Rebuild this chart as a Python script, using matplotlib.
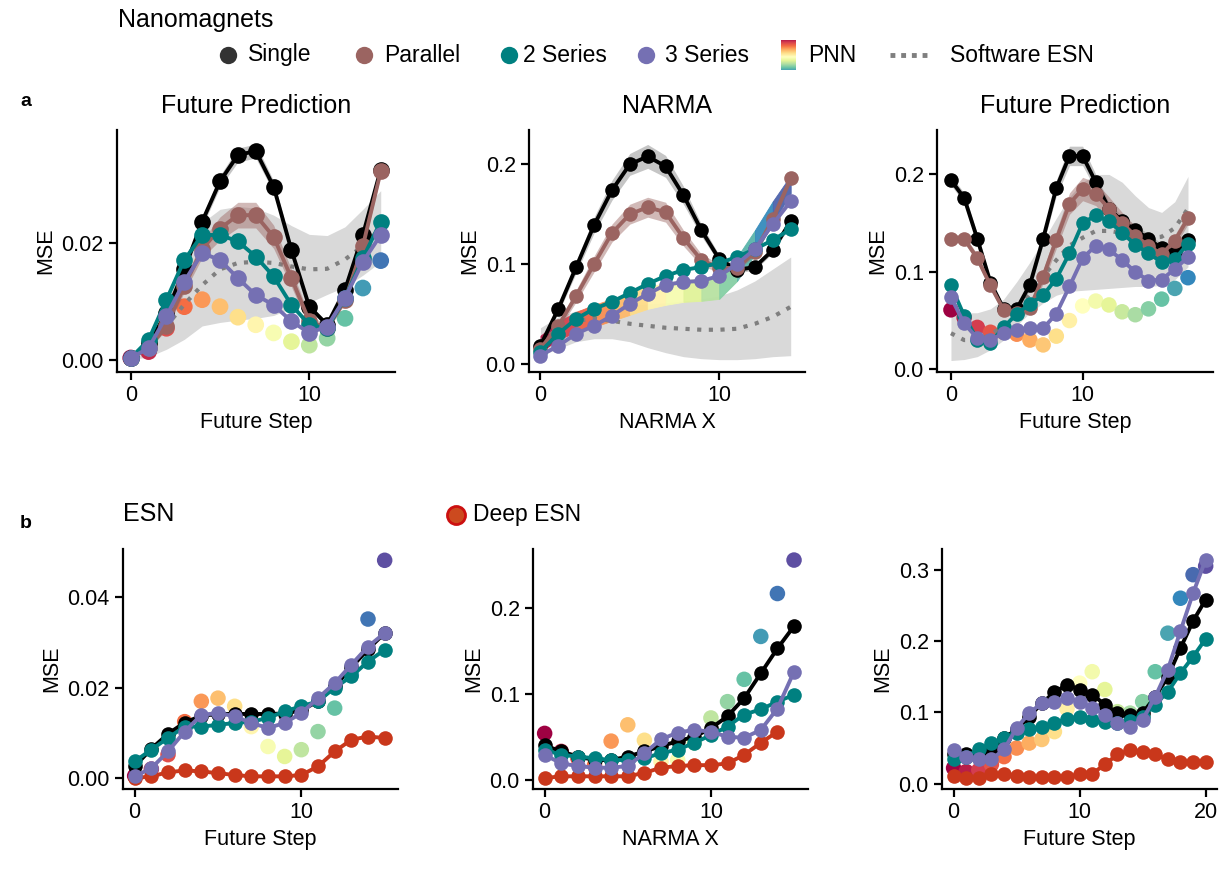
import numpy as np
import matplotlib
matplotlib.use("Agg")
import matplotlib.pyplot as plt

plt.rcParams['font.family'] = ['Liberation Sans', 'DejaVu Sans']

# Colores de cada red
c_single = '#000000'
c_parallel = '#9b6461'
c_series2 = '#008080'
c_series3 = '#7570b3'
c_deep = '#c9371b'
c_esn = '#7f7f7f'
cmap = plt.get_cmap('Spectral')

# ---- a: Future Prediction (izquierda) ----
steps_a1 = np.arange(15)
single_a1 = [0.0003, 0.0028, 0.008, 0.0155, 0.0237, 0.0306, 0.0351, 0.0358, 0.0297, 0.0188, 0.0091, 0.006, 0.012, 0.0214, 0.0326]
single_sd_a1 = [0.0, 0.0003, 0.0005, 0.0007, 0.0009, 0.001, 0.0012, 0.0012, 0.001, 0.0008, 0.0005, 0.0004, 0.0004, 0.0005, 0.0006]
parallel_a1 = [0.0003, 0.002, 0.0058, 0.0126, 0.019, 0.0225, 0.0248, 0.0248, 0.0211, 0.014, 0.0066, 0.0054, 0.0102, 0.0195, 0.0323]
parallel_sd_a1 = [0.0, 0.0003, 0.0006, 0.001, 0.0015, 0.002, 0.0022, 0.0022, 0.002, 0.0015, 0.001, 0.0006, 0.0005, 0.0006, 0.0007]
series2_a1 = [0.0003, 0.0034, 0.0103, 0.0171, 0.0214, 0.0214, 0.0203, 0.0177, 0.0143, 0.0094, 0.006, 0.0054, 0.0106, 0.0174, 0.0237]
series3_a1 = [0.0003, 0.002, 0.0075, 0.0134, 0.0183, 0.0171, 0.014, 0.0111, 0.0094, 0.0066, 0.0046, 0.0057, 0.0106, 0.0168, 0.0214]
pnn_a1 = [0.0003, 0.0014, 0.0054, 0.0091, 0.0103, 0.0091, 0.0073, 0.006, 0.0046, 0.0031, 0.0025, 0.0037, 0.0071, 0.0123, 0.017]
esn_a1 = [0.0003, 0.0022, 0.0058, 0.0095, 0.0128, 0.0155, 0.0166, 0.0168, 0.0166, 0.016, 0.0155, 0.0156, 0.0172, 0.0195, 0.0225]
esn_lo_a1 = [0.0, 0.0005, 0.0018, 0.0035, 0.0058, 0.0064, 0.0068, 0.0071, 0.0076, 0.0088, 0.0098, 0.0112, 0.0125, 0.0145, 0.0168]
esn_hi_a1 = [0.0006, 0.0035, 0.0095, 0.017, 0.0235, 0.0258, 0.0263, 0.026, 0.0248, 0.023, 0.0215, 0.0213, 0.0228, 0.0258, 0.029]

# ---- a: NARMA ----
steps_a2 = np.arange(15)
single_a2 = [0.018, 0.055, 0.097, 0.139, 0.174, 0.2, 0.208, 0.198, 0.169, 0.134, 0.105, 0.094, 0.097, 0.114, 0.143]
single_sd_a2 = [0.002, 0.004, 0.006, 0.008, 0.01, 0.011, 0.012, 0.011, 0.009, 0.006, 0.004, 0.003, 0.003, 0.003, 0.003]
parallel_a2 = [0.015, 0.038, 0.068, 0.1, 0.131, 0.15, 0.157, 0.152, 0.126, 0.104, 0.096, 0.096, 0.112, 0.145, 0.186]
parallel_sd_a2 = [0.002, 0.004, 0.006, 0.008, 0.009, 0.01, 0.01, 0.01, 0.008, 0.006, 0.004, 0.003, 0.003, 0.004, 0.004]
series2_a2 = [0.012, 0.03, 0.045, 0.055, 0.062, 0.071, 0.08, 0.088, 0.094, 0.097, 0.101, 0.107, 0.115, 0.124, 0.135]
series3_a2 = [0.008, 0.018, 0.03, 0.038, 0.048, 0.06, 0.07, 0.079, 0.082, 0.083, 0.088, 0.1, 0.115, 0.14, 0.163]
pnn_a2 = [0.02, 0.033, 0.042, 0.048, 0.054, 0.06, 0.066, 0.07, 0.073, 0.074, 0.077, 0.095, 0.122, 0.152, 0.18]
pnn_sd_a2 = [0.008, 0.009, 0.01, 0.011, 0.011, 0.011, 0.011, 0.011, 0.011, 0.011, 0.012, 0.012, 0.012, 0.011, 0.009]
esn_a2 = [0.022, 0.035, 0.043, 0.045, 0.043, 0.04, 0.038, 0.036, 0.035, 0.034, 0.034, 0.035, 0.04, 0.047, 0.057]
esn_lo_a2 = [0.008, 0.015, 0.022, 0.025, 0.025, 0.022, 0.016, 0.011, 0.007, 0.005, 0.004, 0.004, 0.005, 0.007, 0.008]
esn_hi_a2 = [0.036, 0.047, 0.053, 0.057, 0.058, 0.059, 0.06, 0.061, 0.063, 0.065, 0.068, 0.074, 0.083, 0.095, 0.107]

# ---- a: Future Prediction (derecha) ----
steps_a3 = np.arange(19)
single_a3 = [0.194, 0.176, 0.134, 0.089, 0.062, 0.062, 0.087, 0.134, 0.186, 0.219, 0.219, 0.192, 0.165, 0.152, 0.143, 0.134, 0.124, 0.119, 0.133]
single_sd_a3 = [0.005, 0.005, 0.005, 0.004, 0.004, 0.004, 0.005, 0.006, 0.008, 0.01, 0.01, 0.008, 0.006, 0.005, 0.005, 0.005, 0.005, 0.005, 0.005]
parallel_a3 = [0.134, 0.134, 0.114, 0.086, 0.061, 0.058, 0.063, 0.095, 0.133, 0.17, 0.185, 0.18, 0.165, 0.15, 0.137, 0.127, 0.118, 0.132, 0.155]
parallel_sd_a3 = [0.004, 0.004, 0.004, 0.004, 0.004, 0.004, 0.005, 0.007, 0.009, 0.011, 0.012, 0.012, 0.012, 0.011, 0.01, 0.008, 0.007, 0.006, 0.006]
series2_a3 = [0.086, 0.055, 0.03, 0.027, 0.043, 0.057, 0.067, 0.076, 0.093, 0.119, 0.15, 0.158, 0.152, 0.14, 0.128, 0.119, 0.11, 0.113, 0.129]
series3_a3 = [0.074, 0.047, 0.032, 0.03, 0.037, 0.04, 0.042, 0.042, 0.057, 0.085, 0.114, 0.127, 0.123, 0.112, 0.1, 0.091, 0.092, 0.103, 0.115]
pnn_a3 = [0.061, 0.053, 0.043, 0.038, 0.038, 0.036, 0.03, 0.025, 0.034, 0.05, 0.065, 0.07, 0.066, 0.059, 0.056, 0.062, 0.072, 0.083, 0.094]
esn_a3 = [0.037, 0.03, 0.03, 0.035, 0.045, 0.06, 0.078, 0.095, 0.112, 0.127, 0.135, 0.142, 0.142, 0.14, 0.137, 0.135, 0.136, 0.145, 0.165]
esn_lo_a3 = [0.009, 0.01, 0.013, 0.02, 0.03, 0.045, 0.058, 0.068, 0.076, 0.08, 0.081, 0.082, 0.083, 0.084, 0.085, 0.085, 0.086, 0.092, 0.105]
esn_hi_a3 = [0.062, 0.058, 0.058, 0.062, 0.072, 0.09, 0.11, 0.132, 0.155, 0.177, 0.192, 0.2, 0.2, 0.192, 0.178, 0.166, 0.161, 0.172, 0.198]

# ---- b: ESN (Future Prediction) ----
steps_b1 = np.arange(16)
single_b1 = [0.0026, 0.0065, 0.0098, 0.0123, 0.0138, 0.0142, 0.0142, 0.0142, 0.0142, 0.0143, 0.015, 0.017, 0.0203, 0.0245, 0.0285, 0.0321]
series2_b1 = [0.0037, 0.0063, 0.0089, 0.0114, 0.0114, 0.0118, 0.0122, 0.0125, 0.0133, 0.0148, 0.0159, 0.017, 0.02, 0.0225, 0.0258, 0.0284]
series3_b1 = [0.0004, 0.0022, 0.0059, 0.0103, 0.014, 0.0144, 0.0137, 0.0122, 0.0111, 0.0122, 0.0144, 0.0177, 0.021, 0.0251, 0.0291, 0.0321]
pnn_b1 = [0.0005, 0.002, 0.0052, 0.0125, 0.017, 0.0177, 0.0159, 0.0114, 0.007, 0.0048, 0.0063, 0.0103, 0.0155, 0.0229, 0.0352, 0.0482]
deep_b1 = [0.0, 0.0004, 0.0013, 0.0017, 0.0015, 0.0011, 0.0007, 0.0004, 0.0004, 0.0004, 0.0007, 0.0026, 0.0059, 0.0085, 0.0092, 0.0089]

# ---- b: NARMA ----
steps_b2 = np.arange(16)
single_b2 = [0.04, 0.033, 0.027, 0.023, 0.023, 0.027, 0.033, 0.039, 0.045, 0.05, 0.06, 0.074, 0.095, 0.124, 0.153, 0.179]
series2_b2 = [0.035, 0.029, 0.027, 0.025, 0.023, 0.023, 0.025, 0.031, 0.035, 0.043, 0.052, 0.062, 0.076, 0.082, 0.091, 0.099]
series3_b2 = [0.029, 0.019, 0.016, 0.014, 0.014, 0.016, 0.031, 0.047, 0.055, 0.058, 0.056, 0.05, 0.049, 0.058, 0.083, 0.126]
pnn_b2 = [0.054, 0.033, 0.025, 0.017, 0.045, 0.064, 0.046, 0.021, 0.023, 0.043, 0.072, 0.091, 0.117, 0.167, 0.217, 0.256]
deep_b2 = [0.002, 0.004, 0.004, 0.004, 0.004, 0.004, 0.008, 0.014, 0.016, 0.017, 0.017, 0.019, 0.029, 0.043, 0.056]

# ---- b: Future Prediction (derecha) ----
steps_b3 = np.arange(21)
single_b3 = [0.041, 0.042, 0.038, 0.048, 0.064, 0.076, 0.094, 0.113, 0.128, 0.139, 0.132, 0.125, 0.111, 0.099, 0.097, 0.099, 0.122, 0.15, 0.19, 0.228, 0.258]
series2_b3 = [0.034, 0.038, 0.048, 0.057, 0.064, 0.071, 0.076, 0.08, 0.085, 0.091, 0.094, 0.09, 0.086, 0.085, 0.088, 0.094, 0.111, 0.129, 0.155, 0.178, 0.203]
series3_b3 = [0.047, 0.038, 0.034, 0.034, 0.048, 0.078, 0.099, 0.113, 0.114, 0.12, 0.115, 0.106, 0.097, 0.085, 0.08, 0.09, 0.122, 0.16, 0.214, 0.267, 0.314]
pnn_b3 = [0.022, 0.017, 0.019, 0.027, 0.038, 0.05, 0.057, 0.062, 0.073, 0.105, 0.141, 0.157, 0.132, 0.101, 0.099, 0.115, 0.157, 0.211, 0.26, 0.293, 0.305]
deep_b3 = [0.011, 0.008, 0.008, 0.013, 0.014, 0.011, 0.009, 0.009, 0.01, 0.01, 0.013, 0.014, 0.027, 0.041, 0.047, 0.045, 0.041, 0.034, 0.03, 0.03, 0.03]

legend_names = ['Single', 'Parallel', '2 Series', '3 Series', 'PNN', 'Software ESN']

W, H = 1222, 873
fig = plt.figure(figsize=(W / 100, H / 100), dpi=100)


def caja(left, top, right, bottom):
    # ejes colocados en pixeles de la figura
    return fig.add_axes([left / W, 1 - bottom / H, (right - left) / W, (bottom - top) / H])


def estilo(ax, xlim, ylim, xticks, yticks, yfmt, xlabel):
    ax.set_xlim(*xlim)
    ax.set_ylim(*ylim)
    ax.set_xticks(xticks)
    ax.set_yticks(yticks)
    ax.set_yticklabels([yfmt.format(v) for v in yticks])
    ax.set_xlabel(xlabel, fontsize=15.5)
    ax.set_ylabel('MSE', fontsize=15.5)
    for s in ['top', 'right']:
        ax.spines[s].set_visible(False)
    for s in ['left', 'bottom']:
        ax.spines[s].set_linewidth(1.6)
    ax.tick_params(width=1.6, length=6, labelsize=15.5)


def esn(ax, x, mean, lo, hi):
    ax.fill_between(x, lo, hi, color='#d9d9d9', lw=0, zorder=1)
    ax.plot(x, mean, color=c_esn, lw=3, ls=(0, (1, 1.8)), zorder=2.5)


def magnet(ax, x, y, color, z, sd=None, band='#808080', ms=10.5):
    y = np.asarray(y)
    if sd is not None:
        sd = np.asarray(sd)
        ax.fill_between(x, y - sd, y + sd, color=band, alpha=0.45, lw=0, zorder=z - 0.5)
    ax.plot(x, y, color=color, lw=2.8, marker='o', ms=ms, mec='none', zorder=z)


def pnn_dots(ax, x, y, vmax, s=125):
    ax.scatter(x, y, c=x, cmap=cmap, vmin=0, vmax=vmax, s=s, edgecolors='none', zorder=2)


def pnn_band(ax, x, y, sd, vmax):
    y = np.asarray(y)
    sd = np.asarray(sd)
    for i in range(len(x) - 1):
        c = cmap((x[i] + x[i + 1]) / 2 / vmax)
        ax.fill_between(x[i:i + 2], y[i:i + 2] - sd[i:i + 2], y[i:i + 2] + sd[i:i + 2],
                        color=c, ec=c, lw=0.6, alpha=0.95, zorder=2)


ax_a1 = caja(117, 130, 395, 372)
ax_a2 = caja(529, 130, 805, 372)
ax_a3 = caja(937, 130, 1213, 372)
ax_b1 = caja(123, 549, 398, 789)
ax_b2 = caja(533, 549, 808, 789)
ax_b3 = caja(942, 549, 1217, 789)

# Fila a: nanoimanes frente a ESN en software
esn(ax_a1, steps_a1, esn_a1, esn_lo_a1, esn_hi_a1)
pnn_dots(ax_a1, steps_a1, pnn_a1, 15, s=145)
magnet(ax_a1, steps_a1, single_a1, c_single, 3, single_sd_a1, ms=12)
magnet(ax_a1, steps_a1, parallel_a1, c_parallel, 3.2, parallel_sd_a1, band=c_parallel, ms=12)
magnet(ax_a1, steps_a1, series2_a1, c_series2, 3.4, ms=12)
magnet(ax_a1, steps_a1, series3_a1, c_series3, 3.6, ms=12)
ax_a1.set_title('Future Prediction', fontsize=18, pad=12)
estilo(ax_a1, (-0.77, 14.8), (-0.0021, 0.0394), [0, 10], [0, 0.02], '{:.2f}', 'Future Step')

esn(ax_a2, steps_a2, esn_a2, esn_lo_a2, esn_hi_a2)
pnn_band(ax_a2, steps_a2, pnn_a2, pnn_sd_a2, 14)
magnet(ax_a2, steps_a2, single_a2, c_single, 3, single_sd_a2)
magnet(ax_a2, steps_a2, parallel_a2, c_parallel, 3.2, parallel_sd_a2, band=c_parallel)
magnet(ax_a2, steps_a2, series2_a2, c_series2, 3.4)
magnet(ax_a2, steps_a2, series3_a2, c_series3, 3.6)
ax_a2.set_title('NARMA', fontsize=18, pad=12)
estilo(ax_a2, (-0.64, 14.8), (-0.0084, 0.2345), [0, 10], [0, 0.1, 0.2], '{:.1f}', 'NARMA X')

esn(ax_a3, steps_a3, esn_a3, esn_lo_a3, esn_hi_a3)
pnn_dots(ax_a3, steps_a3, pnn_a3, 20)
magnet(ax_a3, steps_a3, single_a3, c_single, 3, single_sd_a3)
magnet(ax_a3, steps_a3, parallel_a3, c_parallel, 3.2, parallel_sd_a3, band=c_parallel)
magnet(ax_a3, steps_a3, series2_a3, c_series2, 3.4)
magnet(ax_a3, steps_a3, series3_a3, c_series3, 3.6)
ax_a3.set_title('Future Prediction', fontsize=18, pad=12)
estilo(ax_a3, (-1.06, 19.9), (-0.0028, 0.2456), [0, 10], [0, 0.1, 0.2], '{:.1f}', 'Future Step')

# Fila b: ESN y Deep ESN
for ax, x, single, s2, s3, pnn, deep, vmax in [
        (ax_b1, steps_b1, single_b1, series2_b1, series3_b1, pnn_b1, deep_b1, 15),
        (ax_b2, steps_b2, single_b2, series2_b2, series3_b2, pnn_b2, deep_b2, 15),
        (ax_b3, steps_b3, single_b3, series2_b3, series3_b3, pnn_b3, deep_b3, 20)]:
    pnn_dots(ax, x, pnn, vmax)
    magnet(ax, x[:len(deep)], deep, c_deep, 2.8)
    magnet(ax, x, single, c_single, 3)
    magnet(ax, x, s2, c_series2, 3.4)
    magnet(ax, x, s3, c_series3, 3.6)

ax_b1.set_title('ESN', fontsize=18, loc='left', pad=20)
estilo(ax_b1, (-0.7, 15.8), (-0.0024, 0.0507), [0, 10], [0, 0.02, 0.04], '{:.2f}', 'Future Step')
estilo(ax_b2, (-0.7, 15.84), (-0.0108, 0.2689), [0, 10], [0, 0.1, 0.2], '{:.1f}', 'NARMA X')
estilo(ax_b3, (-0.92, 20.9), (-0.0074, 0.329), [0, 10, 20], [0, 0.1, 0.2, 0.3], '{:.1f}', 'Future Step')

# Leyenda superior y letras de panel
leg = fig.add_axes([0, 0, 1, 1], zorder=10)
leg.set_xlim(0, W)
leg.set_ylim(H, 0)
leg.axis('off')

leg.text(118, 20, 'Nanomagnets', fontsize=18, va='center', ha='left')
fila = 55
marcas = [(228, c_single, 0.8), (364, c_parallel, 1), (509, c_series2, 1), (646, c_series3, 1)]
textos = [248, 384, 523, 665, 808, 950]
for (mx, col, al) in marcas:
    leg.plot([mx], [fila], 'o', ms=12.5, color=col, alpha=al, mec='none')
grad = np.linspace(0.05, 0.85, 60).reshape(-1, 1)
leg.imshow(grad, cmap=cmap, vmin=0, vmax=1, extent=[781, 796, 70, 40], aspect='auto', origin='upper')
leg.plot([890, 932], [fila, fila], color=c_esn, lw=3.5, ls=(0, (1, 1.2)))
for tx, name in zip(textos, legend_names):
    leg.text(tx, fila, name, fontsize=16.5, va='center', ha='left')

leg.plot([456], [515], 'o', ms=13, mfc='#cc4a1f', mec='#cc1010', mew=2)
leg.text(473, 515, 'Deep ESN', fontsize=16.5, va='center', ha='left')

leg.text(20, 101, 'a', fontsize=14, fontweight='bold', va='center', ha='left')
leg.text(20, 523, 'b', fontsize=14, fontweight='bold', va='center', ha='left')

fig.savefig('out.png', dpi=100)
